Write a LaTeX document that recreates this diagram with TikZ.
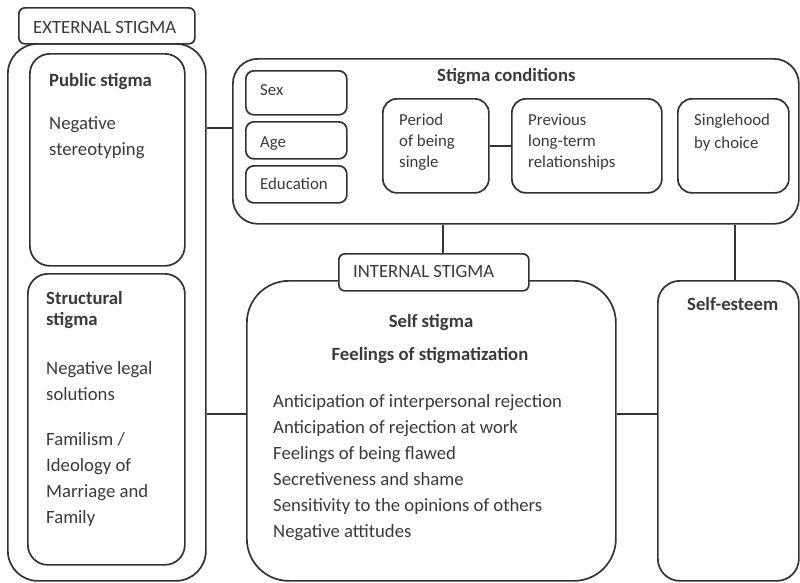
\documentclass[tikz,border=0pt]{standalone}
\usepackage{fontspec}
\setmainfont{Carlito}
\definecolor{ln}{HTML}{333333}
\definecolor{tx}{HTML}{3A3A3A}
\newcommand{\lines}[1]{\begin{tabular}[t]{@{}l@{}}#1\end{tabular}}
\tikzset{
  box/.style={draw=ln, line width=1.7pt, fill=white, inner sep=0pt, anchor=north west},
  conn/.style={draw=ln, line width=1.7pt},
  txt/.style={inner sep=0pt, anchor=base west, text=tx, font=\fontsize{18.7}{26}\selectfont},
  txth/.style={txt, font=\fontsize{18.7}{21}\selectfont\bfseries},
  txts/.style={txt, font=\fontsize{16.8}{21}\selectfont},
}
\begin{document}
\begin{tikzpicture}[x=1pt,y=-1pt]
\useasboundingbox[fill=white] (0,0) rectangle (800,582);
% external
\node[box, rounded corners=30pt, minimum width=198pt, minimum height=537pt] (ext) at (7,43) {};
\node[box, rounded corners=6pt, minimum width=176pt, minimum height=36pt] (extlab) at (18,7) {};
\node[box, rounded corners=20pt, minimum width=155pt, minimum height=212pt] (pub) at (29,53) {};
\node[box, rounded corners=20pt, minimum width=157pt, minimum height=291pt] (str) at (27,273) {};
% conditions
\node[box, rounded corners=25pt, minimum width=566pt, minimum height=165pt] (cond) at (232,58) {};
\node[box, rounded corners=8pt, minimum width=101pt, minimum height=44pt] (sex) at (245,70) {};
\node[box, rounded corners=8pt, minimum width=101pt, minimum height=37pt] (age) at (245,121) {};
\node[box, rounded corners=8pt, minimum width=101pt, minimum height=37pt] (edu) at (245,165) {};
\node[box, rounded corners=14pt, minimum width=106pt, minimum height=94pt] (per) at (382,98) {};
\node[box, rounded corners=14pt, minimum width=150pt, minimum height=94pt] (prev) at (511,98) {};
\node[box, rounded corners=14pt, minimum width=111pt, minimum height=94pt] (sing) at (677,98) {};
% internal
\node[box, rounded corners=42pt, minimum width=369pt, minimum height=300pt] (self) at (246,280) {};
\node[box, rounded corners=6pt, minimum width=190pt, minimum height=37pt] (intlab) at (338,253) {};
\node[box, rounded corners=22pt, minimum width=141pt, minimum height=300pt] (est) at (657,280) {};
% connectors
\draw[conn] (ext.east |- 0,128) -- (cond.west |- 0,128);
\draw[conn] (per.east) -- (prev.west);
\draw[conn] (cond.south -| 443,0) -- (intlab.north -| 443,0);
\draw[conn] (cond.south -| 735,0) -- (est.north -| 735,0);
\draw[conn] (ext.east |- 0,414) -- (self.west |- 0,414);
\draw[conn] (self.east |- 0,414) -- (est.west |- 0,414);
% texts
\node[txt] (t1) at (33,33) {EXTERNAL STIGMA};
\node[txt] (t2) at (353,277) {INTERNAL STIGMA};
\node[txth] (t3) at (49,86) {Public stigma};
\node[txt] (t4) at (49,129) {\lines{Negative\\stereotyping}};
\node[txth] (t5) at (46,304) {\lines{Structural\\stigma}};
\node[txt] (t6) at (46,374) {\lines{Negative legal\\solutions}};
\node[txt] (t7) at (46,445) {\lines{Familism /\\Ideology of\\Marriage and\\Family}};
\node[txth] (t8) at (437,81) {Stigma conditions};
\node[txts] (t9) at (260,95) {Sex};
\node[txts] (t10) at (260,147) {Age};
\node[txts] (t11) at (260,189) {Education};
\node[txts] (t12) at (399,125) {\lines{Period\\of being\\single}};
\node[txts] (t13) at (528,125) {\lines{Previous\\long-term\\relationships}};
\node[txts, font=\fontsize{16.8}{23}\selectfont] (t14) at (694,125) {\lines{Singlehood\\by choice}};
\node[txth, anchor=base] (t15) at (431,327) {Self stigma};
\node[txth, anchor=base] (t16) at (430,360) {Feelings of stigmatization};
\node[txt] (t17) at (273,407) {\lines{Anticipation of interpersonal rejection\\Anticipation of rejection at work\\Feelings of being flawed\\Secretiveness and shame\\Sensitivity to the opinions of others\\Negative attitudes}};
\node[txth] (t18) at (687,310) {Self-esteem};
\end{tikzpicture}
\end{document}
